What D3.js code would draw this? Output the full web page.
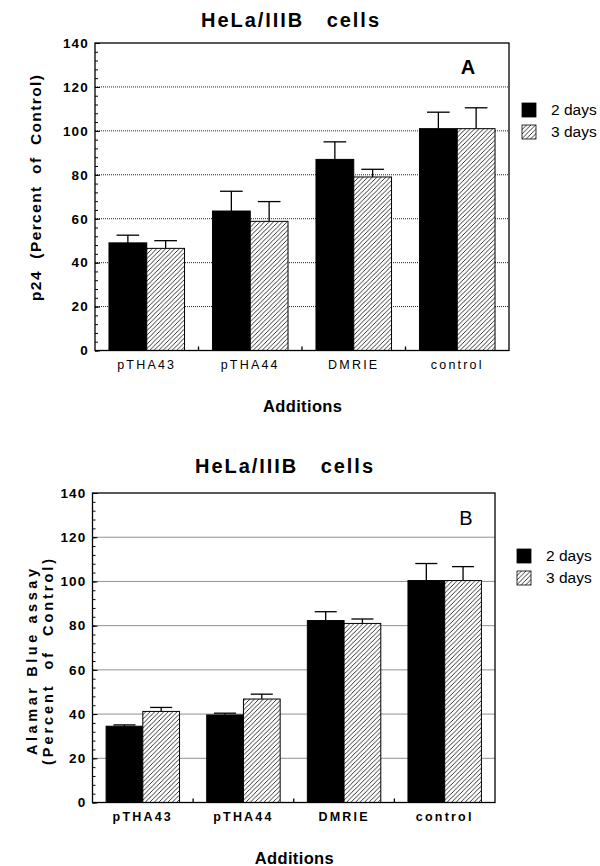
<!DOCTYPE html>
<html>
<head>
<meta charset="utf-8">
<script src="https://cdn.jsdelivr.net/npm/d3@7"></script>
<style>
    body { margin: 0; background: #fff; }
    svg { display: block; font-family: "Liberation Sans", Arial, sans-serif; }
    text { white-space: pre; }
</style>
</head>
<body>
<svg id="canvas" width="600" height="866"></svg>
<script>
const categories = ["pTHA43", "pTHA44", "DMRIE", "control"];
const seriesNames = ["2 days", "3 days"];
const yTicks = [0, 20, 40, 60, 80, 100, 120, 140];

// panel A: p24
const p24Day2 = [49, 63.5, 87, 101];
const p24Day2Err = [3.5, 9, 8, 7.5];
const p24Day3 = [46.5, 58.8, 79, 101];
const p24Day3Err = [3.5, 9, 3.5, 9.5];

// panel B: Alamar Blue
const alamarDay2 = [34.5, 39.6, 82.3, 100.4];
const alamarDay2Err = [0.6, 0.8, 4, 7.7];
const alamarDay3 = [41.2, 46.8, 81, 100.4];
const alamarDay3Err = [1.8, 2.2, 2, 6.3];

const svg = d3.select("#canvas");

// hatch pattern for 3 days
const defs = svg.append("defs");
const pat = defs
    .append("pattern")
    .attr("id", "hatch")
    .attr("patternUnits", "userSpaceOnUse")
    .attr("width", 4.5)
    .attr("height", 4.5);
pat.append("rect").attr("width", 4.5).attr("height", 4.5).attr("fill", "#fff");
pat.append("path")
    .attr("d", "M-1,1 l2,-2 M0,4.5 l4.5,-4.5 M3.5,5.5 l2,-2")
    .attr("stroke", "#000")
    .attr("stroke-width", 0.8);

const fills = ["#000", "url(#hatch)"];

function drawPanel(cfg) {
    const g = svg.append("g");

    const y = d3.scaleLinear().domain([0, 140]).range([cfg.bottom, cfg.top]);
    const x0 = d3
        .scaleBand()
        .domain(categories)
        .range([cfg.left, cfg.right])
        .padding(0);
    const x1 = d3
        .scaleBand()
        .domain(seriesNames)
        .range([0, x0.bandwidth()])
        .paddingInner(0)
        .paddingOuter(0.37);

    // title
    g.append("text")
        .attr("x", cfg.titleX - 89)
        .attr("y", cfg.titleY)
        .attr("font-size", 20)
        .attr("font-weight", "bold")
        .attr("textLength", 178)
        .attr("lengthAdjust", "spacing")
        .text("HeLa/IIIB   cells");

    // dotted grid
    g.selectAll(".grid")
        .data(yTicks.filter((t) => t > 0 && t < 140))
        .enter()
        .append("line")
        .attr("x1", cfg.left)
        .attr("x2", cfg.right)
        .attr("y1", (d) => y(d))
        .attr("y2", (d) => y(d))
        .attr("stroke", "#222")
        .attr("stroke-width", 1)
        .attr("stroke-dasharray", "1,1");

    // minor y ticks
    g.append("g")
        .attr("transform", `translate(${cfg.left},0)`)
        .call(
            d3
                .axisLeft(y)
                .tickValues(d3.range(0, 141, 4))
                .tickSize(-3)
                .tickFormat("")
        )
        .call((a) => a.select(".domain").remove());

    // major y ticks + labels
    g.append("g")
        .attr("transform", `translate(${cfg.left},0)`)
        .call(
            d3
                .axisLeft(y)
                .tickValues(yTicks)
                .tickSizeInner(-5)
                .tickSizeOuter(0)
                .tickPadding(6)
        )
        .call((a) => a.select(".domain").remove())
        .call((a) =>
            a
                .selectAll("text")
                .attr("font-size", 13.5)
                .attr("font-weight", "bold")
                .attr("letter-spacing", 1.2)
                .attr("fill", "#000")
                .attr("font-family", "Liberation Sans, Arial, sans-serif")
        );

    // bars
    const groups = g
        .selectAll(".grp")
        .data(categories)
        .enter()
        .append("g")
        .attr("transform", (d) => `translate(${x0(d)},0)`);

    cfg.values.forEach((vals, si) => {
        const s = seriesNames[si];
        const errs = cfg.errors[si];
        // error bars (upper only)
        groups
            .append("line")
            .attr("x1", x1(s) + x1.bandwidth() / 2)
            .attr("x2", x1(s) + x1.bandwidth() / 2)
            .attr("y1", (d, i) => y(vals[i]))
            .attr("y2", (d, i) => y(vals[i] + errs[i]))
            .attr("stroke", "#000")
            .attr("stroke-width", 1.3);
        groups
            .append("line")
            .attr("x1", x1(s) + x1.bandwidth() * 0.2)
            .attr("x2", x1(s) + x1.bandwidth() * 0.8)
            .attr("y1", (d, i) => y(vals[i] + errs[i]))
            .attr("y2", (d, i) => y(vals[i] + errs[i]))
            .attr("stroke", "#000")
            .attr("stroke-width", 1.3);
        groups
            .append("rect")
            .attr("x", x1(s))
            .attr("width", x1.bandwidth())
            .attr("y", (d, i) => y(vals[i]))
            .attr("height", (d, i) => y(0) - y(vals[i]))
            .attr("fill", fills[si])
            .attr("stroke", "#000")
            .attr("stroke-width", 1);
    });

    // frame
    g.append("rect")
        .attr("x", cfg.left)
        .attr("y", cfg.top)
        .attr("width", cfg.right - cfg.left)
        .attr("height", cfg.bottom - cfg.top)
        .attr("fill", "none")
        .attr("stroke", "#000")
        .attr("stroke-width", 1.3);

    // small ticks between groups
    g.selectAll(".xtick")
        .data(categories.slice(1))
        .enter()
        .append("line")
        .attr("x1", (d) => x0(d))
        .attr("x2", (d) => x0(d))
        .attr("y1", cfg.bottom)
        .attr("y2", cfg.bottom - 4)
        .attr("stroke", "#000")
        .attr("stroke-width", 1.3);

    // x labels
    g.append("g")
        .attr("transform", `translate(0,${cfg.bottom})`)
        .call(d3.axisBottom(x0).tickSize(0).tickPadding(10))
        .call((a) => a.select(".domain").remove())
        .call((a) =>
            a
                .selectAll("text")
                .attr("font-size", 12.5)
                .attr("font-weight", cfg.xBold ? "bold" : "normal")
                .attr("letter-spacing", 2.2)
                .attr("fill", "#000")
                .attr("font-family", "Liberation Sans, Arial, sans-serif")
        );

    // x title
    g.append("text")
        .attr("x", (cfg.left + cfg.right) / 2 - 39)
        .attr("y", cfg.xTitleY)
        .attr("font-size", 16.5)
        .attr("font-weight", "bold")
        .attr("textLength", 79)
        .attr("lengthAdjust", "spacing")
        .text("Additions");

    // y title
    const yt = g
        .append("text")
        .attr("transform", `translate(${cfg.yTitleX},${cfg.yTitleY}) rotate(-90)`)
        .attr("font-size", cfg.yTitleSize)
        .attr("font-weight", "bold");
    cfg.yTitle.forEach((line, i) => {
        yt.append("tspan")
            .attr("x", -cfg.yTitleLen[i] / 2)
            .attr("dy", i === 0 ? 0 : 16)
            .attr("textLength", cfg.yTitleLen[i])
            .attr("lengthAdjust", "spacing")
            .text(line);
    });

    // panel letter
    g.append("text")
        .attr("x", cfg.letterX)
        .attr("y", cfg.letterY)
        .attr("text-anchor", "middle")
        .attr("font-size", 20)
        .attr("font-weight", cfg.letterBold ? "bold" : "normal")
        .text(cfg.letter);

    // legend
    const leg = g
        .selectAll(".leg")
        .data(seriesNames)
        .enter()
        .append("g")
        .attr(
            "transform",
            (d, i) => `translate(${cfg.legendX},${cfg.legendY + i * 22})`
        );
    leg.append("rect")
        .attr("width", 14)
        .attr("height", 14)
        .attr("fill", (d, i) => fills[i])
        .attr("stroke", "#000")
        .attr("stroke-width", 0.8);
    leg.append("text")
        .attr("x", 29)
        .attr("y", 12)
        .attr("font-size", 15.5)
        .text((d) => d);
}

drawPanel({
    left: 95,
    right: 509,
    top: 43,
    bottom: 350.5,
    titleX: 290,
    titleY: 27,
    xTitleY: 412,
    yTitleX: 41,
    yTitleY: 188,
    yTitleSize: 15.5,
    yTitle: ["p24  (Percent  of  Control)"],
    yTitleLen: [226],
    xBold: false,
    letter: "A",
    letterX: 468,
    letterY: 74,
    letterBold: true,
    legendX: 522,
    legendY: 103,
    values: [p24Day2, p24Day3],
    errors: [p24Day2Err, p24Day3Err],
});

drawPanel({
    left: 92.5,
    right: 495,
    top: 493,
    bottom: 802.5,
    titleX: 284,
    titleY: 473,
    xTitleY: 864,
    yTitleX: 37,
    yTitleY: 662,
    yTitleSize: 14.5,
    yTitle: ["Alamar Blue assay", "(Percent  of  Control)"],
    yTitleLen: [186, 206],
    xBold: true,
    letter: "B",
    letterX: 466,
    letterY: 525,
    letterBold: false,
    legendX: 517,
    legendY: 549,
    values: [alamarDay2, alamarDay3],
    errors: [alamarDay2Err, alamarDay3Err],
});
</script>
</body>
</html>
